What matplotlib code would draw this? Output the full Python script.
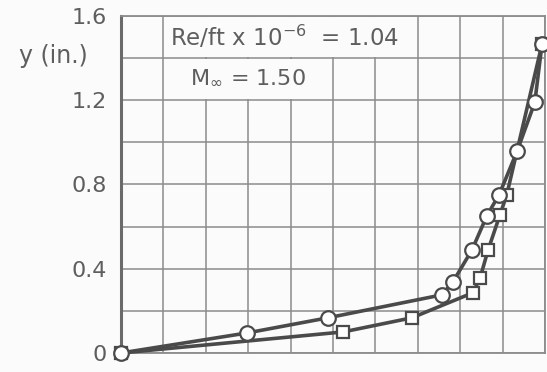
import numpy as np
import matplotlib
matplotlib.use("Agg")
import matplotlib.pyplot as plt
from matplotlib.patches import Rectangle

# velocity profile data, circles and squares
circle_x = [0.0, 0.297, 0.488, 0.757, 0.783, 0.828, 0.863, 0.892, 0.934, 0.976, 0.993]
circle_y = [0.0, 0.095, 0.167, 0.276, 0.338, 0.490, 0.652, 0.752, 0.957, 1.190, 1.467]
square_x = [0.0, 0.524, 0.686, 0.830, 0.847, 0.866, 0.894, 0.910, 0.993]
square_y = [0.0, 0.100, 0.167, 0.286, 0.357, 0.490, 0.657, 0.752, 1.467]

y_ticks = [0.0, 0.2, 0.4, 0.6, 0.8, 1.0, 1.2, 1.4, 1.6]
y_labels = ["0", "", "0.4", "", "0.8", "", "1.2", "", "1.6"]
x_grid = [0.0, 0.1, 0.2, 0.3, 0.4, 0.5, 0.6, 0.7, 0.8, 0.9, 1.0]

ink = "#4a4a4a"
grid_col = "#8c8c8c"
text_col = "#5e5e5e"

fig = plt.figure(figsize=(5.47, 3.72), dpi=100)
fig.patch.set_facecolor("#fbfbfb")
ax = fig.add_axes([0.2212, 0.0511, 0.7751, 0.9059])
ax.set_facecolor("#fbfbfb")

ax.set_xlim(0, 1.0)
ax.set_ylim(0, 1.6)
ax.set_xticks(x_grid)
ax.set_xticklabels([])
ax.set_yticks(y_ticks)
ax.set_yticklabels(y_labels, fontsize=16, color=text_col)
ax.tick_params(length=0, pad=10)
ax.set_axisbelow(True)
ax.grid(True, color=grid_col, linewidth=1.1)

for side in ["top", "right", "bottom"]:
    ax.spines[side].set_color(grid_col)
    ax.spines[side].set_linewidth(1.3)
ax.spines["left"].set_color("#6a6a6a")
ax.spines["left"].set_linewidth(2.2)

# blank the grid behind the legend text
e = 0.006
ax.add_patch(Rectangle((0.1 + e, 1.4 + e), 0.6 - 2 * e, 0.2 - 2 * e,
                       facecolor="#fbfbfb", edgecolor="none", zorder=1))
ax.add_patch(Rectangle((0.1 + e, 1.2 + e), 0.4 - 2 * e, 0.2 - 2 * e,
                       facecolor="#fbfbfb", edgecolor="none", zorder=1))

ax.plot(square_x, square_y, color=ink, linewidth=2.6, marker="s", markersize=9,
        markerfacecolor="white", markeredgecolor=ink, markeredgewidth=1.6,
        zorder=3, clip_on=False)
ax.plot(circle_x, circle_y, color=ink, linewidth=2.6, marker="o", markersize=10.5,
        markerfacecolor="white", markeredgecolor=ink, markeredgewidth=1.6,
        zorder=4, clip_on=False)

ax.text(0.115, 1.5, r"Re/ft x 10$^{-6}$  = 1.04", fontsize=16.5, color=text_col,
        va="center", ha="left", zorder=5)
ax.text(0.162, 1.31, r"M$_{\infty}$ = 1.50", fontsize=16, color=text_col,
        va="center", ha="left", zorder=5)
ax.text(-0.078, 1.41, "y (in.)", fontsize=17, color=text_col,
        va="center", ha="right", transform=ax.transData)

fig.savefig("out.png", dpi=100, facecolor=fig.get_facecolor())
